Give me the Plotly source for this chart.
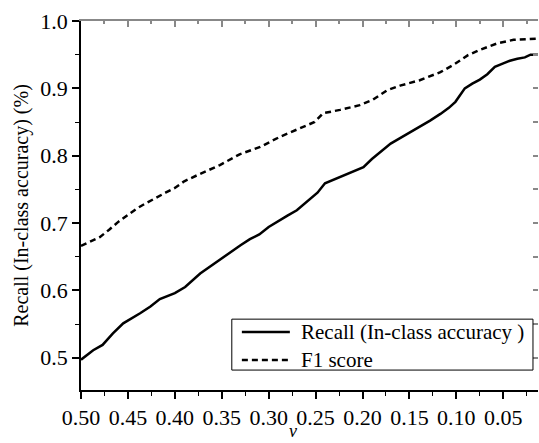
import plotly.graph_objects as go

nu_recall = [0.500, 0.493, 0.487, 0.477, 0.466, 0.455, 0.445, 0.437, 0.426, 0.416,
             0.400, 0.389, 0.373, 0.360, 0.350, 0.340, 0.330, 0.320, 0.310, 0.300,
             0.290, 0.280, 0.270, 0.259, 0.248, 0.240, 0.224, 0.210, 0.199, 0.190,
             0.181, 0.170, 0.160, 0.150, 0.139, 0.128, 0.117, 0.108, 0.101, 0.091,
             0.083, 0.075, 0.067, 0.059, 0.050, 0.043, 0.035, 0.027, 0.021, 0.013]
recall = [0.497, 0.505, 0.511, 0.519, 0.536, 0.551, 0.559, 0.566, 0.576, 0.587,
          0.596, 0.605, 0.625, 0.638, 0.647, 0.657, 0.667, 0.676, 0.683, 0.694,
          0.703, 0.711, 0.719, 0.732, 0.745, 0.759, 0.768, 0.776, 0.783, 0.795,
          0.806, 0.818, 0.826, 0.834, 0.843, 0.852, 0.862, 0.871, 0.880, 0.900,
          0.907, 0.913, 0.921, 0.932, 0.937, 0.941, 0.944, 0.946, 0.950, 0.950]

nu_f1 = [0.500, 0.490, 0.480, 0.470, 0.460, 0.450, 0.440, 0.430, 0.420, 0.410,
         0.400, 0.390, 0.373, 0.352, 0.331, 0.309, 0.288, 0.267, 0.251, 0.242,
         0.224, 0.203, 0.189, 0.174, 0.160, 0.139, 0.117, 0.103, 0.088, 0.075,
         0.056, 0.039, 0.013]
f1 = [0.666, 0.672, 0.679, 0.690, 0.702, 0.712, 0.722, 0.730, 0.738, 0.745,
      0.752, 0.762, 0.773, 0.786, 0.802, 0.813, 0.828, 0.841, 0.850, 0.863,
      0.868, 0.875, 0.883, 0.897, 0.904, 0.912, 0.924, 0.935, 0.949, 0.957,
      0.967, 0.972, 0.974]

series_names = ["Recall (In-class accuracy )", "F1 score"]
x_ticks = [0.50, 0.45, 0.40, 0.35, 0.30, 0.25, 0.20, 0.15, 0.10, 0.05]
y_ticks = [0.5, 0.6, 0.7, 0.8, 0.9, 1.0]

XR = [0.50, 0.013]
YR = [0.452, 1.0]
FONT = "Liberation Serif"
DASH = "6px,4px"

fig = go.Figure()
fig.add_trace(go.Scatter(x=nu_recall, y=recall, mode="lines", name=series_names[0],
                         line=dict(color="black", width=2.5), showlegend=False))
fig.add_trace(go.Scatter(x=nu_f1, y=f1, mode="lines", name=series_names[1],
                         line=dict(color="black", width=2.5, dash=DASH), showlegend=False))

# legend box drawn in paper coordinates
shapes = [
    dict(type="rect", xref="paper", yref="paper", x0=0.330, x1=0.989, y0=0.054, y1=0.192,
         line=dict(color="black", width=1), fillcolor="white", layer="above"),
    dict(type="line", xref="paper", yref="paper", x0=0.352, x1=0.457, y0=0.157, y1=0.157,
         line=dict(color="black", width=2.5), layer="above"),
    dict(type="line", xref="paper", yref="paper", x0=0.352, x1=0.457, y0=0.081, y1=0.081,
         line=dict(color="black", width=2.5, dash=DASH), layer="above"),
]
annotations = [
    dict(text=series_names[0], xref="paper", yref="paper", x=0.478, y=0.157,
         xanchor="left", yanchor="middle", showarrow=False,
         font=dict(family=FONT, size=21, color="black")),
    dict(text=series_names[1], xref="paper", yref="paper", x=0.478, y=0.081,
         xanchor="left", yanchor="middle", showarrow=False,
         font=dict(family=FONT, size=21, color="black")),
    dict(text="<i>ν</i>", xref="paper", yref="paper", x=0.464, y=0, yshift=-52,
         xanchor="center", yanchor="bottom", showarrow=False, borderpad=0,
         font=dict(family=FONT, size=18, color="black")),
]

fig.update_layout(
    width=539, height=443,
    margin=dict(l=81, r=1, t=21, b=53, autoexpand=False),
    plot_bgcolor="white", paper_bgcolor="white",
    font=dict(family=FONT, size=22, color="black"),
    showlegend=False,
    shapes=shapes,
    annotations=annotations,
    xaxis=dict(range=XR, tickvals=x_ticks, ticktext=[f"{v:.2f}" for v in x_ticks],
               showgrid=False, zeroline=False, showline=True, linecolor="black", linewidth=1.5,
               ticks="outside", ticklen=7, tickwidth=1.5, tickcolor="black", automargin=False,
               minor=dict(dtick=0.025, ticks="outside", ticklen=4, tickcolor="black", tickwidth=1),
               tickfont=dict(family=FONT, size=22)),
    yaxis=dict(range=YR, tickvals=y_ticks, ticktext=[f"{v:.1f}" for v in y_ticks],
               showgrid=False, zeroline=False, showline=True, linecolor="black", linewidth=1.5,
               ticks="outside", ticklen=7, tickwidth=1.5, tickcolor="black", automargin=False,
               minor=dict(dtick=0.05, tick0=0.45, ticks="outside", ticklen=4, tickcolor="black", tickwidth=1),
               title=dict(text="Recall (In-class accuracy) (%)", font=dict(family=FONT, size=20), standoff=6),
               tickfont=dict(family=FONT, size=22)),
    xaxis2=dict(range=XR, overlaying="x", side="top", showticklabels=False, showgrid=False,
                zeroline=False, showline=True, linecolor="#888888", linewidth=1.5, automargin=False,
                ticks="inside", ticklen=6, tickwidth=1.5, tickcolor="#888888",
                tickvals=x_ticks,
                minor=dict(dtick=0.025, ticks="inside", ticklen=3, tickcolor="#888888")),
    yaxis2=dict(range=YR, overlaying="y", side="right", showticklabels=False, showgrid=False,
                zeroline=False, showline=False, automargin=False,
                ticks="inside", ticklen=5, tickwidth=1.5, tickcolor="#888888",
                tickvals=[0.5, 0.55, 0.6, 0.65, 0.7, 0.75, 0.8, 0.85, 0.9, 0.95]),
)
fig.add_trace(go.Scatter(x=[0.3], y=[0.7], xaxis="x2", yaxis="y2", mode="markers",
                         marker=dict(opacity=0), showlegend=False, hoverinfo="skip"))

fig.write_html("out.html")
